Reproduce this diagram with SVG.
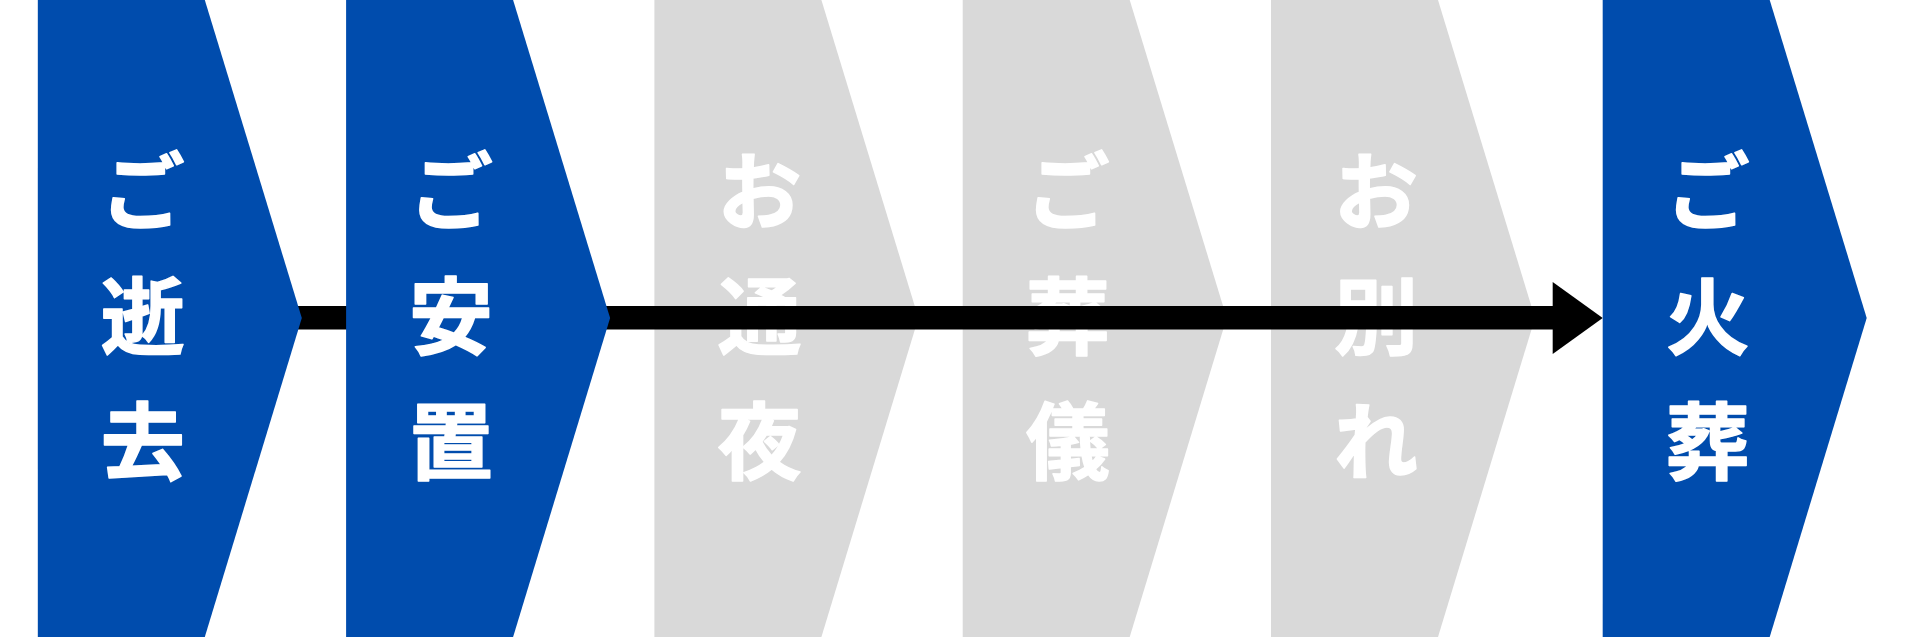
<svg xmlns="http://www.w3.org/2000/svg" width="1911" height="639" viewBox="0 0 1911 639">
  <style>
    .blue { fill: #004CAD; }
    .gray { fill: #D9D9D9; }
    .lbl { fill: #FFFFFF; font-family: "Noto Sans CJK JP", "Noto Sans CJK SC", sans-serif; font-size: 84px; font-weight: 700; text-anchor: middle; stroke: #FFFFFF; stroke-width: 1.5; stroke-linejoin: round; stroke-linecap: round; }
  </style>
  <defs>
    <polygon id="chev" points="0,0 167,0 264,318 167,637 0,637"/>
  </defs>
  <rect width="1911" height="639" fill="#FFFFFF"/>

  <g id="node-3" transform="translate(654.4,0)">
    <use href="#chev" class="gray"/>
    <text class="lbl"><tspan x="105" y="223">お</tspan><tspan x="105" y="348">通</tspan><tspan x="105" y="473">夜</tspan></text>
  </g>
  <g id="node-4" transform="translate(962.7,0)">
    <use href="#chev" class="gray"/>
    <text class="lbl"><tspan x="105" y="223">ご</tspan><tspan x="105" y="348">葬</tspan><tspan x="105" y="473">儀</tspan></text>
  </g>
  <g id="node-5" transform="translate(1271,0)">
    <use href="#chev" class="gray"/>
    <text class="lbl"><tspan x="105" y="223">お</tspan><tspan x="105" y="348">別</tspan><tspan x="105" y="473">れ</tspan></text>
  </g>

  <g id="connectors">
    <rect x="200" y="306" width="1353" height="23.5" fill="#000000"/>
    <polygon points="1552.7,282 1602.7,318 1552.7,354" fill="#000000"/>
  </g>

  <g id="node-1" transform="translate(37.8,0)">
    <use href="#chev" class="blue"/>
    <text class="lbl"><tspan x="105" y="223">ご</tspan><tspan x="105" y="348">逝</tspan><tspan x="105" y="473">去</tspan></text>
  </g>
  <g id="node-2" transform="translate(346.1,0)">
    <use href="#chev" class="blue"/>
    <text class="lbl"><tspan x="105" y="223">ご</tspan><tspan x="105" y="348">安</tspan><tspan x="105" y="473">置</tspan></text>
  </g>
  <g id="node-6" transform="translate(1602.7,0)">
    <use href="#chev" class="blue"/>
    <text class="lbl"><tspan x="105" y="223">ご</tspan><tspan x="105" y="348">火</tspan><tspan x="105" y="473">葬</tspan></text>
  </g>
</svg>
